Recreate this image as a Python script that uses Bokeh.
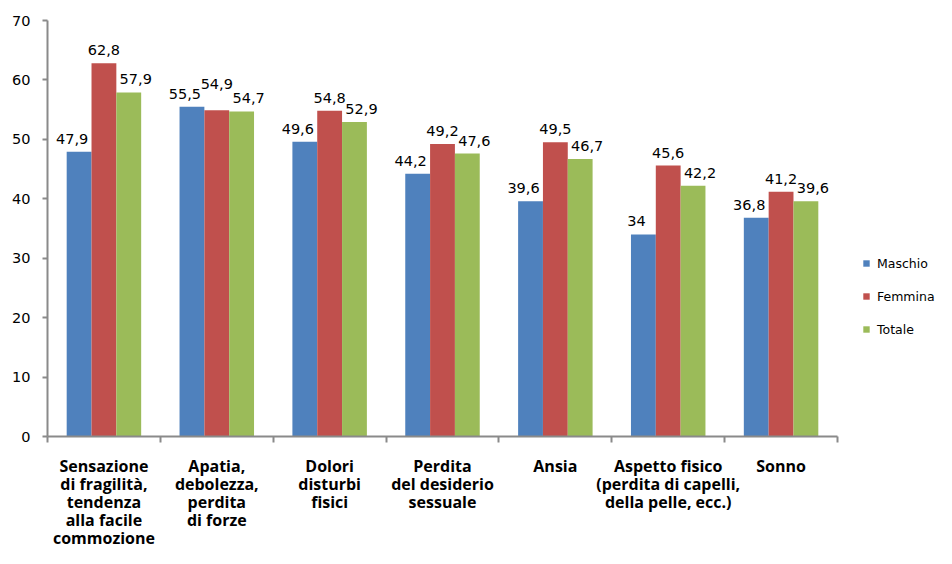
from bokeh.plotting import figure
from bokeh.layouts import column
from bokeh.models import (Range1d, FixedTicker, LabelSet, ColumnDataSource, Legend, LegendItem)
from bokeh.core.properties import value
from bokeh.embed import file_html
from bokeh.resources import INLINE

categories = [
    "Sensazione\ndi fragilità,\ntendenza\nalla facile\ncommozione",
    "Apatia,\ndebolezza,\nperdita\ndi forze",
    "Dolori\ndisturbi\nfisici",
    "Perdita\ndel desiderio\nsessuale",
    "Ansia",
    "Aspetto fisico\n(perdita di capelli,\ndella pelle, ecc.)",
    "Sonno",
]
series_names = ["Maschio", "Femmina", "Totale"]
maschio = [47.9, 55.5, 49.6, 44.2, 39.6, 34, 36.8]
femmina = [62.8, 54.9, 54.8, 49.2, 49.5, 45.6, 41.2]
totale = [57.9, 54.7, 52.9, 47.6, 46.7, 42.2, 39.6]
y_ticks = [0, 10, 20, 30, 40, 50, 60, 70]

colors = ["#4F81BD", "#C0504D", "#9BBB59"]
AXIS = "#8A8A8A"
n = len(categories)
centers = [i + 0.5 for i in range(n)]
bw = 0.22
offsets = [-bw, 0.0, bw]
label_dx = [-7, 0, 7]

W = 936
LEFT = 47
AXIS_END_PX = 837          # where the category axis ends
H1 = 444
H2 = 104
# extend the frame to the right edge so the legend fits inside it
x_end = n * (W - LEFT) / (AXIS_END_PX - LEFT)
x_range = Range1d(0, x_end)

p = figure(width=W, height=H1, output_backend="svg", toolbar_location=None,
           x_range=x_range, y_range=Range1d(0, 70),
           min_border_left=LEFT, min_border_right=0, min_border_top=20, min_border_bottom=8)
p.outline_line_color = None
p.xgrid.visible = False
p.ygrid.visible = False

all_vals = [maschio, femmina, totale]
items = []
for s, (vals, name, col, off, dx) in enumerate(zip(all_vals, series_names, colors, offsets, label_dx)):
    xs = [c + off for c in centers]
    # lift a middle label when it would collide with both neighbours (as Excel did)
    lift = []
    for i, v in enumerate(vals):
        crowded = (s == 1 and abs(v - maschio[i]) < 1.5 and abs(v - totale[i]) < 1.5)
        lift.append(8 + (13 if crowded else 0))
    src = ColumnDataSource(dict(x=xs, top=vals, dy=lift,
                                lab=[f"{v:g}".replace(".", ",") for v in vals]))
    r = p.vbar(x="x", top="top", width=bw, bottom=0, source=src, fill_color=col, line_color=None)
    items.append(LegendItem(label=name, renderers=[r]))
    p.add_layout(LabelSet(x="x", y="top", text="lab", source=src, text_align="center",
                          text_baseline="alphabetic", y_offset="dy", x_offset=dx,
                          text_font=value("DejaVu Sans"), text_font_size=value("14.5px"),
                          text_color="#000000"))

# axes
xa = p.xaxis[0]
xa.bounds = (0, n)
xa.ticker = FixedTicker(ticks=centers, minor_ticks=list(range(n + 1)))
xa.major_label_text_font_size = "0px"
xa.major_label_text_alpha = 0
xa.major_label_standoff = 0
xa.major_tick_out = 0
xa.major_tick_in = 0
xa.minor_tick_out = 6
xa.minor_tick_in = 0
xa.minor_tick_line_color = AXIS
xa.minor_tick_line_width = 2
xa.axis_line_color = AXIS
xa.axis_line_width = 2

ya = p.yaxis[0]
ya.ticker = FixedTicker(ticks=y_ticks)
ya.major_tick_out = 5
ya.major_tick_in = 0
ya.minor_tick_out = 0
ya.minor_tick_in = 0
ya.major_tick_line_color = AXIS
ya.major_tick_line_width = 2
ya.axis_line_color = AXIS
ya.axis_line_width = 2
ya.major_label_text_font = "DejaVu Sans"
ya.major_label_text_font_size = "14.5px"
ya.major_label_text_color = "#000000"
ya.major_label_standoff = 12

legend = Legend(items=items, location=(815, 97), orientation="vertical",
                glyph_width=8, glyph_height=8, label_height=20, spacing=13,
                label_standoff=7, padding=0, margin=0, border_line_color=None,
                background_fill_alpha=0, label_text_font="DejaVu Sans",
                label_text_font_size="12.5px", label_text_color="#000000")
p.add_layout(legend)

# category labels in a strip below the axis (one y unit = one text line)
line_px = 18
first_px = 21
p2 = figure(width=W, height=H2, output_backend="svg", toolbar_location=None,
            x_range=x_range,
            y_range=Range1d(first_px / line_px - H2 / line_px, first_px / line_px),
            x_axis_location=None, y_axis_location=None,
            min_border_left=LEFT, min_border_right=0, min_border_top=0, min_border_bottom=0)
p2.outline_line_color = None
p2.xgrid.visible = False
p2.ygrid.visible = False
lx, ly, lt = [], [], []
for i, c in enumerate(categories):
    for k, t in enumerate(c.split("\n")):
        lx.append(centers[i])
        ly.append(-k)
        lt.append(t)
p2.text(x=lx, y=ly, text=lt, text_align="center", text_baseline="middle",
        text_font=value("Open Sans"), text_font_style="bold",
        text_font_size=value("16px"), text_color="#000000")

layout = column(p, p2, spacing=0)
open("out.html", "w").write(file_html(layout, INLINE))
